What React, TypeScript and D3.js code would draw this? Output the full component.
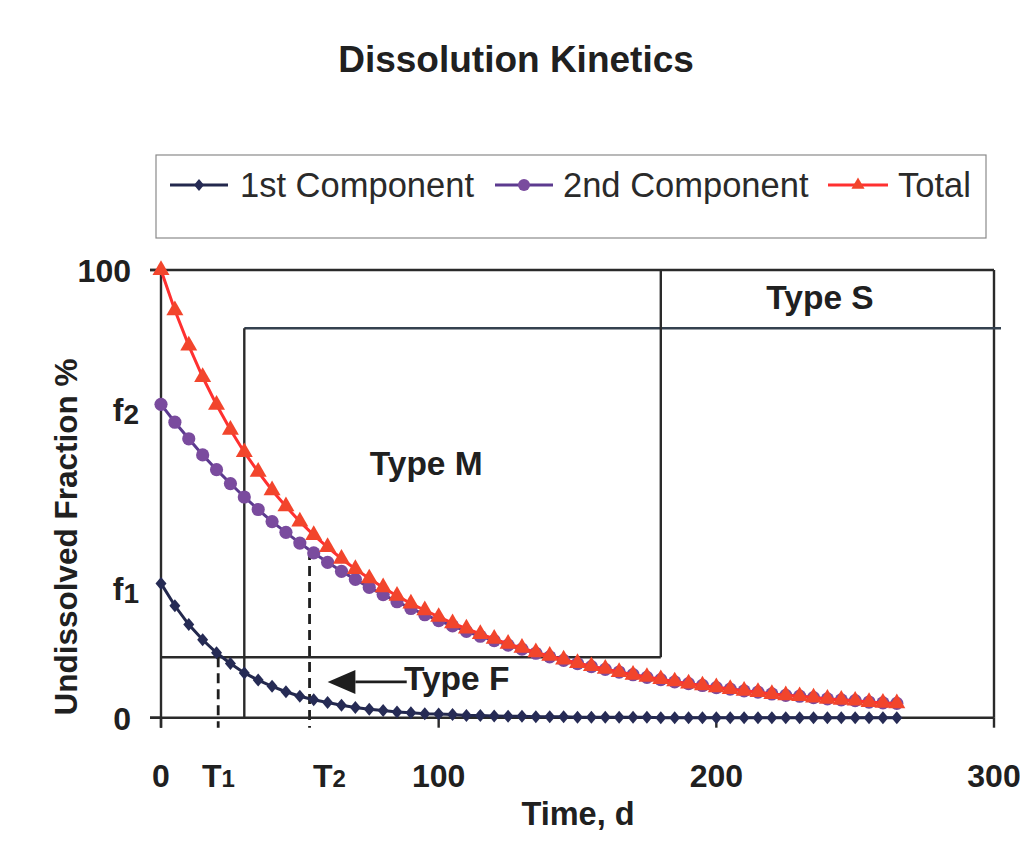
import * as d3 from "d3";

// time axis (days) and the three series
const days = [
  0, 5, 10, 15, 20, 25, 30, 35, 40, 45, 50, 55, 60, 65, 70, 75, 80, 85, 90, 95,
  100, 105, 110, 115, 120, 125, 130, 135, 140, 145, 150, 155, 160, 165, 170, 175,
  180, 185, 190, 195, 200, 205, 210, 215, 220, 225, 230, 235, 240, 245, 250, 255,
  260, 265,
];

const firstComponent = [
  30.0, 25.0, 20.8, 17.4, 14.5, 12.1, 10.0, 8.4, 7.0, 5.8, 4.8, 4.0, 3.4, 2.8, 2.3,
  1.9, 1.6, 1.3, 1.1, 0.9, 0.8, 0.7, 0.5, 0.5, 0.4, 0.3, 0.3, 0.2, 0.2, 0.2, 0.1,
  0.1, 0.1, 0.1, 0.1, 0.1, 0.0, 0.0, 0.0, 0.0, 0.0, 0.0, 0.0, 0.0, 0.0, 0.0, 0.0,
  0.0, 0.0, 0.0, 0.0, 0.0, 0.0, 0.0,
];

const secondComponent = [
  70.0, 66.0, 62.3, 58.7, 55.4, 52.3, 49.3, 46.5, 43.8, 41.4, 39.0, 36.8, 34.7,
  32.7, 30.9, 29.1, 27.5, 25.9, 24.4, 23.0, 21.7, 20.5, 19.3, 18.2, 17.2, 16.2,
  15.3, 14.4, 13.6, 12.8, 12.1, 11.4, 10.8, 10.2, 9.6, 9.0, 8.5, 8.0, 7.6, 7.2,
  6.7, 6.4, 6.0, 5.7, 5.3, 5.0, 4.8, 4.5, 4.2, 4.0, 3.8, 3.5, 3.3, 3.2,
];

const totalValues = [
  100.0, 91.0, 83.1, 76.1, 69.9, 64.3, 59.3, 54.9, 50.8, 47.2, 43.8, 40.8, 38.1,
  35.5, 33.2, 31.1, 29.1, 27.2, 25.5, 24.0, 22.5, 21.1, 19.9, 18.7, 17.6, 16.5,
  15.6, 14.6, 13.8, 13.0, 12.2, 11.5, 10.9, 10.2, 9.6, 9.1, 8.6, 8.1, 7.6, 7.2,
  6.8, 6.4, 6.0, 5.7, 5.3, 5.0, 4.8, 4.5, 4.2, 4.0, 3.8, 3.5, 3.3, 3.2,
];

const xTicks = [0, 100, 200, 300];
const xTickLabels = ["0", "100", "200", "300"];
const yTicks = [0, 30, 70, 100];
const yTickLabels = ["0", "f|1", "f|2", "100"];

// characteristic times T1, T2 and the type zone limits
const markTimes = [20.6, 53.5];
const markLabels = ["T|1", "T|2"];
const zoneTimes = [30, 180];
const zoneLevels = [13.5, 87];

const W = 1020;
const H = 862;
const FONT = "'Liberation Sans', Arial, Helvetica, sans-serif";
const INK = "#202020";

const x = d3.scaleLinear().domain([0, 300]).range([161, 994]);
const y = d3.scaleLinear().domain([0, 100]).range([717.7, 270]);

const C1 = { line: "#23284d", fill: "#262b55" };
const C2 = { line: "#5c3a8f", fill: "#7a4b9e" };
const CT = { line: "#ff3030", fill: "#f2452c" };

const diamond = (cx: number, cy: number, w: number, h: number) =>
  `M${cx},${cy - h}L${cx + w},${cy}L${cx},${cy + h}L${cx - w},${cy}Z`;

const triangle = d3.symbol().type(d3.symbolTriangle).size(125);
const triangleSmall = d3.symbol().type(d3.symbolTriangle).size(75);

const line = d3
  .line<number>()
  .x((_, i) => x(days[i]))
  .y((d) => y(d));

function SubText({
  label,
  px,
  py,
  anchor,
  size,
  sub,
  subDy,
}: {
  label: string;
  px: number;
  py: number;
  anchor: string;
  size: number;
  sub: number;
  subDy: number;
}) {
  const [main, s] = label.split("|");
  return (
    <text
      x={px}
      y={py}
      textAnchor={anchor}
      fontFamily={FONT}
      fontWeight="bold"
      fontSize={size}
      fill={INK}
    >
      {main}
      {s && (
        <tspan fontSize={sub} dy={subDy}>
          {s}
        </tspan>
      )}
    </text>
  );
}

export default function App() {
  const x0 = x(0);
  const x300 = x(300);
  const y0 = y(0);
  const y100 = y(100);
  const [tA, tB] = zoneTimes;
  const [lF, lM] = zoneLevels;

  const legend = [
    { label: "1st Component", x1: 170, x2: 228, tx: 240, kind: "d", c: C1 },
    { label: "2nd Component", x1: 495, x2: 553, tx: 563, kind: "c", c: C2 },
    { label: "Total", x1: 828, x2: 888, tx: 898, kind: "t", c: CT },
  ];

  return (
    <svg
      width={W}
      height={H}
      style={{ position: "absolute", left: 0, top: 0, background: "#fff" }}
    >
      <rect x={0} y={0} width={W} height={H} fill="#fff" />

      {/* title */}
      <text
        x={516}
        y={72}
        textAnchor="middle"
        fontFamily={FONT}
        fontWeight="bold"
        fontSize={37}
        fill={INK}
      >
        Dissolution Kinetics
      </text>

      {/* legend */}
      <rect x={156} y={155} width={830} height={83} fill="none" stroke="#8a8a8a" strokeWidth={1.2} />
      {legend.map((l) => {
        const cx = (l.x1 + l.x2) / 2;
        const ly = 185;
        return (
          <g key={l.label}>
            <line x1={l.x1} x2={l.x2} y1={ly} y2={ly} stroke={l.c.line} strokeWidth={3.2} />
            {l.kind === "d" && <path d={diamond(cx, ly, 5, 6)} fill={l.c.fill} />}
            {l.kind === "c" && <circle cx={cx} cy={ly} r={6} fill={l.c.fill} />}
            {l.kind === "t" && (
              <path d={triangleSmall() as string} transform={`translate(${cx},${ly})`} fill={l.c.fill} />
            )}
            <text x={l.tx} y={197} fontFamily={FONT} fontSize={34.5} fill="#2a2a2a">
              {l.label}
            </text>
          </g>
        );
      })}

      {/* plot frame and type zones */}
      <g stroke="#2a2a2a" strokeWidth={2.4} fill="none">
        <line x1={x0 - 11} x2={x300} y1={y100} y2={y100} />
        <line x1={x300} x2={x300} y1={y100} y2={y0} />
        <line x1={x(tA)} x2={x300 + 7} y1={y(lM)} y2={y(lM)} stroke="#34414f" />
        <line x1={x(tA)} x2={x(tA)} y1={y(lM)} y2={y0} />
        <line x1={x(tB)} x2={x(tB)} y1={y100} y2={y(lF)} />
        <line x1={x0} x2={x(tB)} y1={y(lF)} y2={y(lF)} />
      </g>

      {/* dashed T1/T2 markers */}
      <g stroke="#1e1e1e" strokeWidth={2.8} strokeDasharray="10 6">
        <line x1={x(markTimes[0])} x2={x(markTimes[0])} y1={y(lF)} y2={y0 + 10} />
        <line
          x1={x(markTimes[1])}
          x2={x(markTimes[1])}
          y1={y(d3.interpolateNumber(secondComponent[10], secondComponent[11])(0.7))}
          y2={y0 + 10}
        />
      </g>

      {/* axes */}
      <g stroke="#2a2a2a" strokeWidth={2.4}>
        <line x1={x0} x2={x0} y1={y100} y2={y0 + 10} />
        <line x1={x0 - 11} x2={x300} y1={y0} y2={y0} />
        {xTicks.map((t) => (
          <line key={t} x1={x(t)} x2={x(t)} y1={y0} y2={y0 + 10} />
        ))}
        {[0, 100].map((v) => (
          <line key={v} x1={x0 - 11} x2={x0} y1={y(v)} y2={y(v)} />
        ))}
      </g>

      {/* series: 1st, 2nd, total */}
      <path d={line(firstComponent) as string} fill="none" stroke={C1.line} strokeWidth={3} />
      {firstComponent.map((v, i) => (
        <path key={"a" + i} d={diamond(x(days[i]), y(v), 5.5, 6.5)} fill={C1.fill} />
      ))}

      <path d={line(secondComponent) as string} fill="none" stroke={C2.line} strokeWidth={3} />
      {secondComponent.map((v, i) => (
        <circle key={"b" + i} cx={x(days[i])} cy={y(v)} r={6.6} fill={C2.fill} />
      ))}

      <path d={line(totalValues) as string} fill="none" stroke={CT.line} strokeWidth={3} />
      {totalValues.map((v, i) => (
        <path
          key={"c" + i}
          d={triangle() as string}
          transform={`translate(${x(days[i])},${y(v)})`}
          fill={CT.fill}
        />
      ))}

      {/* zone labels */}
      <text x={x(218)} y={y(91.2)} fontFamily={FONT} fontWeight="bold" fontSize={33.5} fill={INK}>
        Type S
      </text>
      <text x={x(75.2)} y={y(54.2)} fontFamily={FONT} fontWeight="bold" fontSize={33.5} fill={INK}>
        Type M
      </text>
      <text x={x(87.5)} y={y(6.1)} fontFamily={FONT} fontWeight="bold" fontSize={33.5} fill={INK}>
        Type F
      </text>
      <line x1={x(70)} x2={x(88.5)} y1={y(8)} y2={y(8)} stroke="#1e1e1e" strokeWidth={2.8} />
      <path
        d={`M${x(60)},${y(8)}L${x(70)},${y(8) - 12}L${x(70)},${y(8) + 12}Z`}
        fill="#1e1e1e"
      />

      {/* y tick labels */}
      {yTicks.map((v, i) => {
        const isF = yTickLabels[i].includes("|");
        return (
          <SubText
            key={v}
            label={yTickLabels[i]}
            px={isF ? 139 : 131}
            py={y(v) + (isF ? 17 : 12)}
            anchor="end"
            size={32}
            sub={28}
            subDy={3}
          />
        );
      })}

      {/* x tick labels */}
      {xTicks.map((t, i) => (
        <SubText key={t} label={xTickLabels[i]} px={x(t)} py={787} anchor="middle" size={32} sub={24} subDy={0} />
      ))}
      <SubText label={markLabels[0]} px={202} py={787} anchor="start" size={32} sub={24} subDy={0} />
      <SubText label={markLabels[1]} px={313} py={787} anchor="start" size={32} sub={24} subDy={0} />

      {/* axis titles */}
      <text
        x={578}
        y={825}
        textAnchor="middle"
        fontFamily={FONT}
        fontWeight="bold"
        fontSize={32.5}
        fill={INK}
      >
        Time, d
      </text>
      <text
        transform="translate(77,537) rotate(-90)"
        textAnchor="middle"
        fontFamily={FONT}
        fontWeight="bold"
        fontSize={31.5}
        fill={INK}
      >
        Undissolved Fraction %
      </text>
    </svg>
  );
}
